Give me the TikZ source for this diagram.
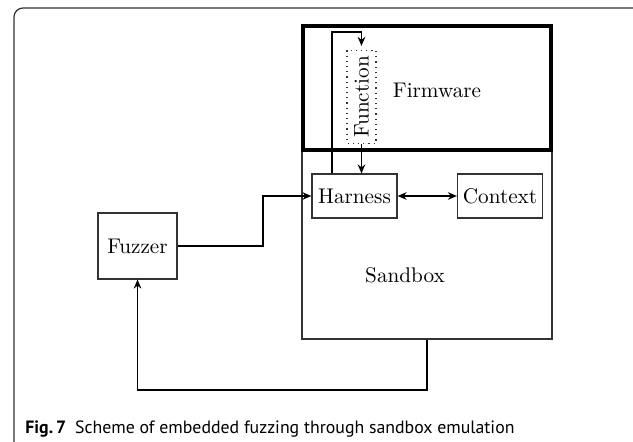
\documentclass[tikz,border=0pt]{standalone}
\usepackage{fontspec}
\newfontfamily\capfont{PT Sans}
\usetikzlibrary{arrows.meta,positioning,calc}
\definecolor{fgray}{HTML}{333333}

\begin{document}
\begin{tikzpicture}[x=0.5pt, y=-0.5pt, font=\fontsize{10.6}{12}\selectfont,
  blk/.style={draw=fgray, line width=0.6pt, inner sep=0pt},
  conn/.style={line width=0.8pt, -{Stealth[length=4.5pt,width=3.8pt]}}]
\useasboundingbox (0,0) rectangle (633,442);
% ---------- outer frame ----------
\draw[fgray, line width=0.6pt, rounded corners=4.5pt] (640,8) -- (14,8) -- (14,452) -- (40,452);
% ---------- containers ----------
\node[blk, minimum width=125pt, minimum height=94pt] (Sandbox) at (427,245) {};
\node[draw, line width=1.6pt, minimum width=124pt, minimum height=62pt] (Firmware) at (427,88) {};
\node at (437,90) {Firmware};
\node (sblabel) at (405,275) {Sandbox};
% ---------- blocks ----------
\node[blk, minimum width=42.5pt, minimum height=22pt] (Harness) at (354.5,196) {Harness};
\node[blk, minimum width=42.5pt, minimum height=22pt] (Context) at (500,196) {Context};
\node[blk, minimum width=39.5pt, minimum height=33pt] (Fuzzer) at (137.5,246) {Fuzzer};
\node[draw=fgray, dotted, line width=0.6pt, rotate=90, minimum width=46.5pt,
      minimum height=14.5pt, inner sep=0pt] (Function) at (361.5,97) {Function};
% ---------- connectors ----------
\coordinate (loop) at (332,32);
\coordinate (step) at (263,246);
\coordinate (back) at (427,390);
\draw[conn, shorten >=2pt] (Harness.north -| loop) -- (loop) -| (Function.east);
\draw[conn] (Function.west) -- (Harness.north -| Function.west);
\draw[conn, {Stealth[length=4.5pt,width=3.8pt]}-{Stealth[length=4.5pt,width=3.8pt]}] (Harness) -- (Context);
\draw[conn] (Fuzzer.east) -- (step) |- (Harness.west);
\draw[conn] (Sandbox.south) -- (back) -| (Fuzzer.south);
% ---------- caption ----------
\node[anchor=base west, inner sep=0pt, font=\capfont\fontsize{8.9}{10}\selectfont] (caption) at (25,434)
   {\textbf{Fig.\,7}\enspace Scheme of embedded fuzzing through sandbox emulation};
\end{tikzpicture}
\end{document}
